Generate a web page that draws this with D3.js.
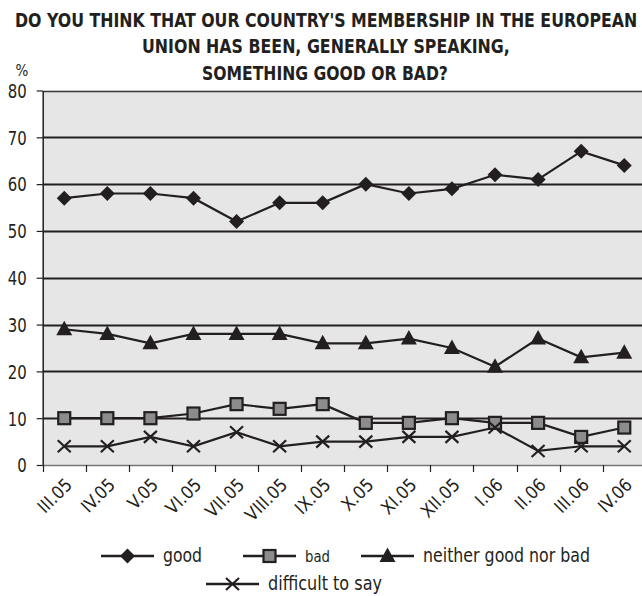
<!DOCTYPE html>
<html><head><meta charset="utf-8">
<script src="https://cdn.jsdelivr.net/npm/d3@7"></script>
<style>
body{margin:0;background:#fff;}
svg{display:block;}
text{font-family:"DejaVu Sans Condensed","DejaVu Sans",sans-serif;font-stretch:condensed;fill:#231f20;}
</style></head><body>
<svg id="c" width="642" height="596"></svg>
<script>
const categories = ["III.05","IV.05","V.05","VI.05","VII.05","VIII.05","IX.05","X.05","XI.05","XII.05","I.06","II.06","III.06","IV.06"];
const good = [57,58,58,57,52,56,56,60,58,59,62,61,67,64];
const bad = [10,10,10,11,13,12,13,9,9,10,9,9,6,8];
const neither = [29,28,26,28,28,28,26,26,27,25,21,27,23,24];
const difficult = [4,4,6,4,7,4,5,5,6,6,8,3,4,4];
const yTicks = [0,10,20,30,40,50,60,70,80];
const titleLines = ["DO YOU THINK THAT OUR COUNTRY'S MEMBERSHIP IN THE EUROPEAN","UNION HAS BEEN, GENERALLY SPEAKING,","SOMETHING GOOD OR BAD?"];
const seriesNames = ["good","bad","neither good nor bad","difficult to say"];

const ink = "#231f20";
const svg = d3.select("#c");
const L = 42.7, R = 645.8, T = 90.5, B = 465;
const x = d3.scaleBand().domain(categories).range([L, R]);
const y = d3.scaleLinear().domain([0, 80]).range([B, T]);

// title (horizontally compressed to mimic the condensed typeface)
const titleY = [27, 53, 80];
const titleX = [15, 142, 202];
const titleW = [623, 368, 246];
svg.selectAll("text.title").data(titleLines).join("text")
  .attr("class","title")
  .attr("font-size", 19).attr("font-weight","bold")
  .text(d=>d)
  .each(function(d,i){
    const w = this.getComputedTextLength();
    const s = titleW[i] / w;
    d3.select(this).attr("transform", `translate(${titleX[i]},${titleY[i]}) scale(${s},1)`);
  });

// plot background
svg.append("rect").attr("x", L).attr("y", T).attr("width", 642-L).attr("height", B-T).attr("fill", "#e6e6e6");

// gridlines
svg.selectAll("line.grid").data(yTicks.filter(v=>v>0)).join("line")
  .attr("x1", L).attr("x2", 642)
  .attr("y1", d=>Math.round(y(d))+0.5).attr("y2", d=>Math.round(y(d))+0.5)
  .attr("stroke", d=> d===80 ? "#3a3a3a" : ink)
  .attr("stroke-width", d=> d===80 ? 1.6 : 2.2);

// bottom axis line
svg.append("line").attr("x1", L).attr("x2", 642).attr("y1", B+0.5).attr("y2", B+0.5).attr("stroke", "#777").attr("stroke-width", 1.5);

// y axis
const yAxis = d3.axisLeft(y).tickValues(yTicks).tickSize(6).tickSizeOuter(0).tickPadding(10);
const gy = svg.append("g").attr("transform", `translate(${L},0)`).call(yAxis);
gy.select(".domain").attr("stroke", ink).attr("stroke-width", 1.5);
gy.selectAll(".tick line").attr("stroke", ink).attr("stroke-width", 1.2);
gy.selectAll(".tick text").attr("font-size", 19).attr("fill", ink).attr("font-family", null).attr("dy", "0.36em")
  .attr("textLength", d=>String(d).length*9.5).attr("lengthAdjust","spacingAndGlyphs");
svg.append("text").attr("x", 22).attr("y", 76).attr("text-anchor","middle").attr("font-size", 15).text("%");

// x axis ticks at band boundaries
svg.selectAll("line.xt").data(categories).join("line")
  .attr("x1", d=>Math.round(x(d))+0.5).attr("x2", d=>Math.round(x(d))+0.5)
  .attr("y1", B).attr("y2", B+7).attr("stroke", ink).attr("stroke-width", 1.2);
svg.selectAll("text.xl").data(categories).join("text")
  .attr("class","xl")
  .attr("transform", d=>`translate(${x(d)+x.bandwidth()/2+9},${B+21}) rotate(-45)`)
  .attr("text-anchor","end").attr("font-size", 18)
  .text(d=>d);

// series
const cx = d => x(d) + x.bandwidth()/2;
const allSeries = [good, bad, neither, difficult];
const line = d3.line().x((v,i)=>cx(categories[i])).y(v=>y(v));
svg.selectAll("path.series").data(allSeries).join("path")
  .attr("d", d=>line(d)).attr("fill","none").attr("stroke", ink).attr("stroke-width", 2.2);

function drawMarker(g, type, px, py){
  if(type===0){
    g.append("path").attr("d", `M${px},${py-7.5}L${px+7.5},${py}L${px},${py+7.5}L${px-7.5},${py}Z`).attr("fill", ink);
  } else if(type===1){
    g.append("rect").attr("x", px-6).attr("y", py-6).attr("width",12).attr("height",12)
      .attr("fill","#8c8c8c").attr("stroke", ink).attr("stroke-width", 2.2);
  } else if(type===2){
    g.append("path").attr("d", `M${px},${py-8.5}L${px+8},${py+6}L${px-8},${py+6}Z`).attr("fill", ink);
  } else {
    g.append("path").attr("d", `M${px-6.5},${py-6}L${px+6.5},${py+6}M${px-6.5},${py+6}L${px+6.5},${py-6}`)
      .attr("stroke", ink).attr("stroke-width", 2.2).attr("fill","none");
  }
}
const mg = svg.append("g");
allSeries.forEach((s, k) => s.forEach((v,i)=> drawMarker(mg, k, cx(categories[i]), y(v))));

// legend
const legPos = [[101,556],[243,556],[361,556],[206,584]];
const legW = [39, 25, 167, 114];
const lg = svg.append("g");
seriesNames.forEach((n,k)=>{
  const [lx, ly] = legPos[k];
  lg.append("line").attr("x1", lx).attr("x2", lx+53).attr("y1", ly).attr("y2", ly).attr("stroke", ink).attr("stroke-width", 2.4);
  drawMarker(lg, k, lx+26.5, ly);
  lg.append("text").attr("x", lx+62).attr("y", ly+6).attr("font-size", k===1?15:19)
    .attr("textLength", legW[k]).attr("lengthAdjust","spacingAndGlyphs").text(n);
});
</script>
</body></html>
